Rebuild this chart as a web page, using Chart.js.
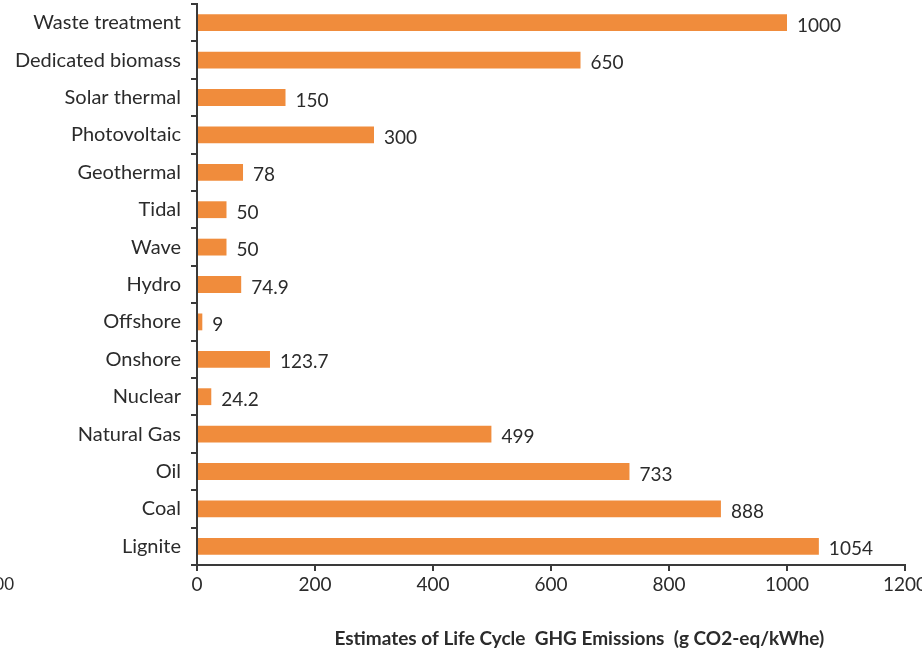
<!DOCTYPE html>
<html>
<head>
<meta charset="utf-8">
<script src="https://cdn.jsdelivr.net/npm/chart.js@4/dist/chart.umd.min.js"></script>
<style>
  html, body { margin: 0; padding: 0; background: #ffffff; overflow: hidden; }
  #wrap { position: relative; width: 940px; height: 653px; }
</style>
</head>
<body>
<div id="wrap"><canvas id="c"></canvas></div>
<script>
// Life-cycle greenhouse gas emissions by generation technology
const sources = [
  'Waste treatment', 'Dedicated biomass', 'Solar thermal', 'Photovoltaic',
  'Geothermal', 'Tidal', 'Wave', 'Hydro', 'Offshore', 'Onshore',
  'Nuclear', 'Natural Gas', 'Oil', 'Coal', 'Lignite'
];
const emissions = [1000, 650, 150, 300, 78, 50, 50, 74.9, 9, 123.7, 24.2, 499, 733, 888, 1054];
const emissionLabels = ['1000', '650', '150', '300', '78', '50', '50', '74.9', '9', '123.7', '24.2', '499', '733', '888', '1054'];
const axisTitle = 'Estimates of Life Cycle  GHG Emissions  (g CO2-eq/kWhe)';
const xMin = 0, xMax = 1200, xStep = 200;

const FONT = 'Lato, "Liberation Sans", sans-serif';
const INK = '#2b2b2b';
const AXIS = '#3a3a3a';

// value labels at the end of each bar, plus the bold axis title
const annotate = {
  id: 'annotate',
  afterDatasetsDraw(chart) {
    const ctx = chart.ctx;
    const meta = chart.getDatasetMeta(0);
    ctx.save();
    ctx.fillStyle = INK;
    ctx.font = '19px ' + FONT;
    ctx.textAlign = 'left';
    ctx.textBaseline = 'middle';
    meta.data.forEach((bar, i) => {
      ctx.fillText(emissionLabels[i], bar.x + 10, bar.y + 3);
    });
    const a = chart.chartArea;
    ctx.font = 'bold 19px ' + FONT;
    ctx.textAlign = 'center';
    ctx.fillText(axisTitle, a.left + (a.right - a.left) * 0.54, 639);
    // clipped tick value from the neighbouring panel
    ctx.font = '17px ' + FONT;
    ctx.textAlign = 'right';
    ctx.fillText('00', 14, 585);
    ctx.restore();
  }
};

new Chart(document.getElementById('c'), {
  type: 'bar',
  data: {
    labels: sources,
    datasets: [{
      data: emissions,
      backgroundColor: '#F08C3C',
      borderWidth: 0,
      barPercentage: 0.45,
      categoryPercentage: 1.0
    }]
  },
  options: {
    indexAxis: 'y',
    responsive: true,
    maintainAspectRatio: false,
    animation: false,
    layout: { padding: { top: 4, right: 35, bottom: 0, left: 0 } },
    plugins: { legend: { display: false }, tooltip: { enabled: false } },
    scales: {
      x: {
        min: xMin, max: xMax,
        ticks: {
          stepSize: xStep, color: INK, font: { family: FONT, size: 19 }, padding: 2,
          callback: v => String(v)
        },
        grid: { drawOnChartArea: false, tickLength: 6, color: AXIS, lineWidth: 2 },
        border: { color: AXIS, width: 2 },
        afterFit(s) { s.height = 88; s.paddingLeft = 0; }
      },
      y: {
        offset: true,
        ticks: { color: INK, font: { family: FONT, size: 20 }, padding: 10 },
        grid: { offset: true, drawOnChartArea: false, tickLength: 6, color: AXIS, lineWidth: 2 },
        border: { color: AXIS, width: 2 },
        afterFit(s) { s.width = 197; s.paddingTop = 0; s.paddingBottom = 0; }
      }
    }
  },
  plugins: [annotate]
});
</script>
</body>
</html>
